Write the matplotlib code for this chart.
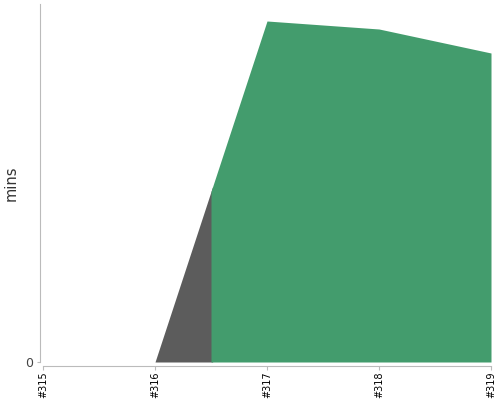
import numpy as np
import matplotlib
matplotlib.use("Agg")
import matplotlib.pyplot as plt

# build duration trend
builds = ["#315", "#316", "#317", "#318", "#319"]
durations = [0.0, 0.0, 17.05, 16.65, 15.45]   # mins
statuses = ["aborted", "aborted", "success", "success", "success"]
colors = {"success": "#439c6d", "aborted": "#5c5c5c"}

fig = plt.figure(figsize=(5, 4), dpi=100)
ax = fig.add_axes([43 / 500, 38 / 400, 448 / 500, 358 / 400])

x = np.arange(len(builds))
y = np.array(durations)
n = len(builds)

# group consecutive builds with the same status, each one owns the
# half-segment on either side of its point
runs = []
start = 0
for i in range(1, n + 1):
    if i == n or statuses[i] != statuses[start]:
        runs.append((start, i - 1, statuses[start]))
        start = i

# runs overlap a hair and the next one paints over, so no white seam
overlap = 0.015
for a, b, st in runs:
    lo = max(a - 0.5, 0)
    hi = min(b + 0.5 + overlap, n - 1)
    xs = np.array([lo] + [k for k in x if lo < k < hi] + [hi], dtype=float)
    ys = np.interp(xs, x, y)
    ax.fill_between(xs, 0, ys, color=colors[st], linewidth=0)

ax.set_xlim(0, n - 1)
ax.set_ylim(0, 17.9)

for s in ["top", "right"]:
    ax.spines[s].set_visible(False)
ax.spines["left"].set_position(("outward", 2.5))
ax.spines["bottom"].set_position(("outward", 2.9))
for s in ["left", "bottom"]:
    ax.spines[s].set_color("#bbbbbb")
ax.tick_params(axis="x", colors="#bbbbbb", labelcolor="black", length=2.9,
               pad=1, labelrotation=90, labelsize=7)
ax.tick_params(axis="y", colors="#bbbbbb", labelcolor="#444444", length=2.5,
               pad=2, labelsize=9)

ax.set_xticks(x)
ax.set_xticklabels(builds)
ax.set_yticks([0])
ax.set_yticklabels(["0"])
ax.set_ylabel("mins", fontsize=10.5, color="#333333")
ax.yaxis.set_label_coords(-0.054, 0.5)

fig.savefig("out.png", dpi=100)
